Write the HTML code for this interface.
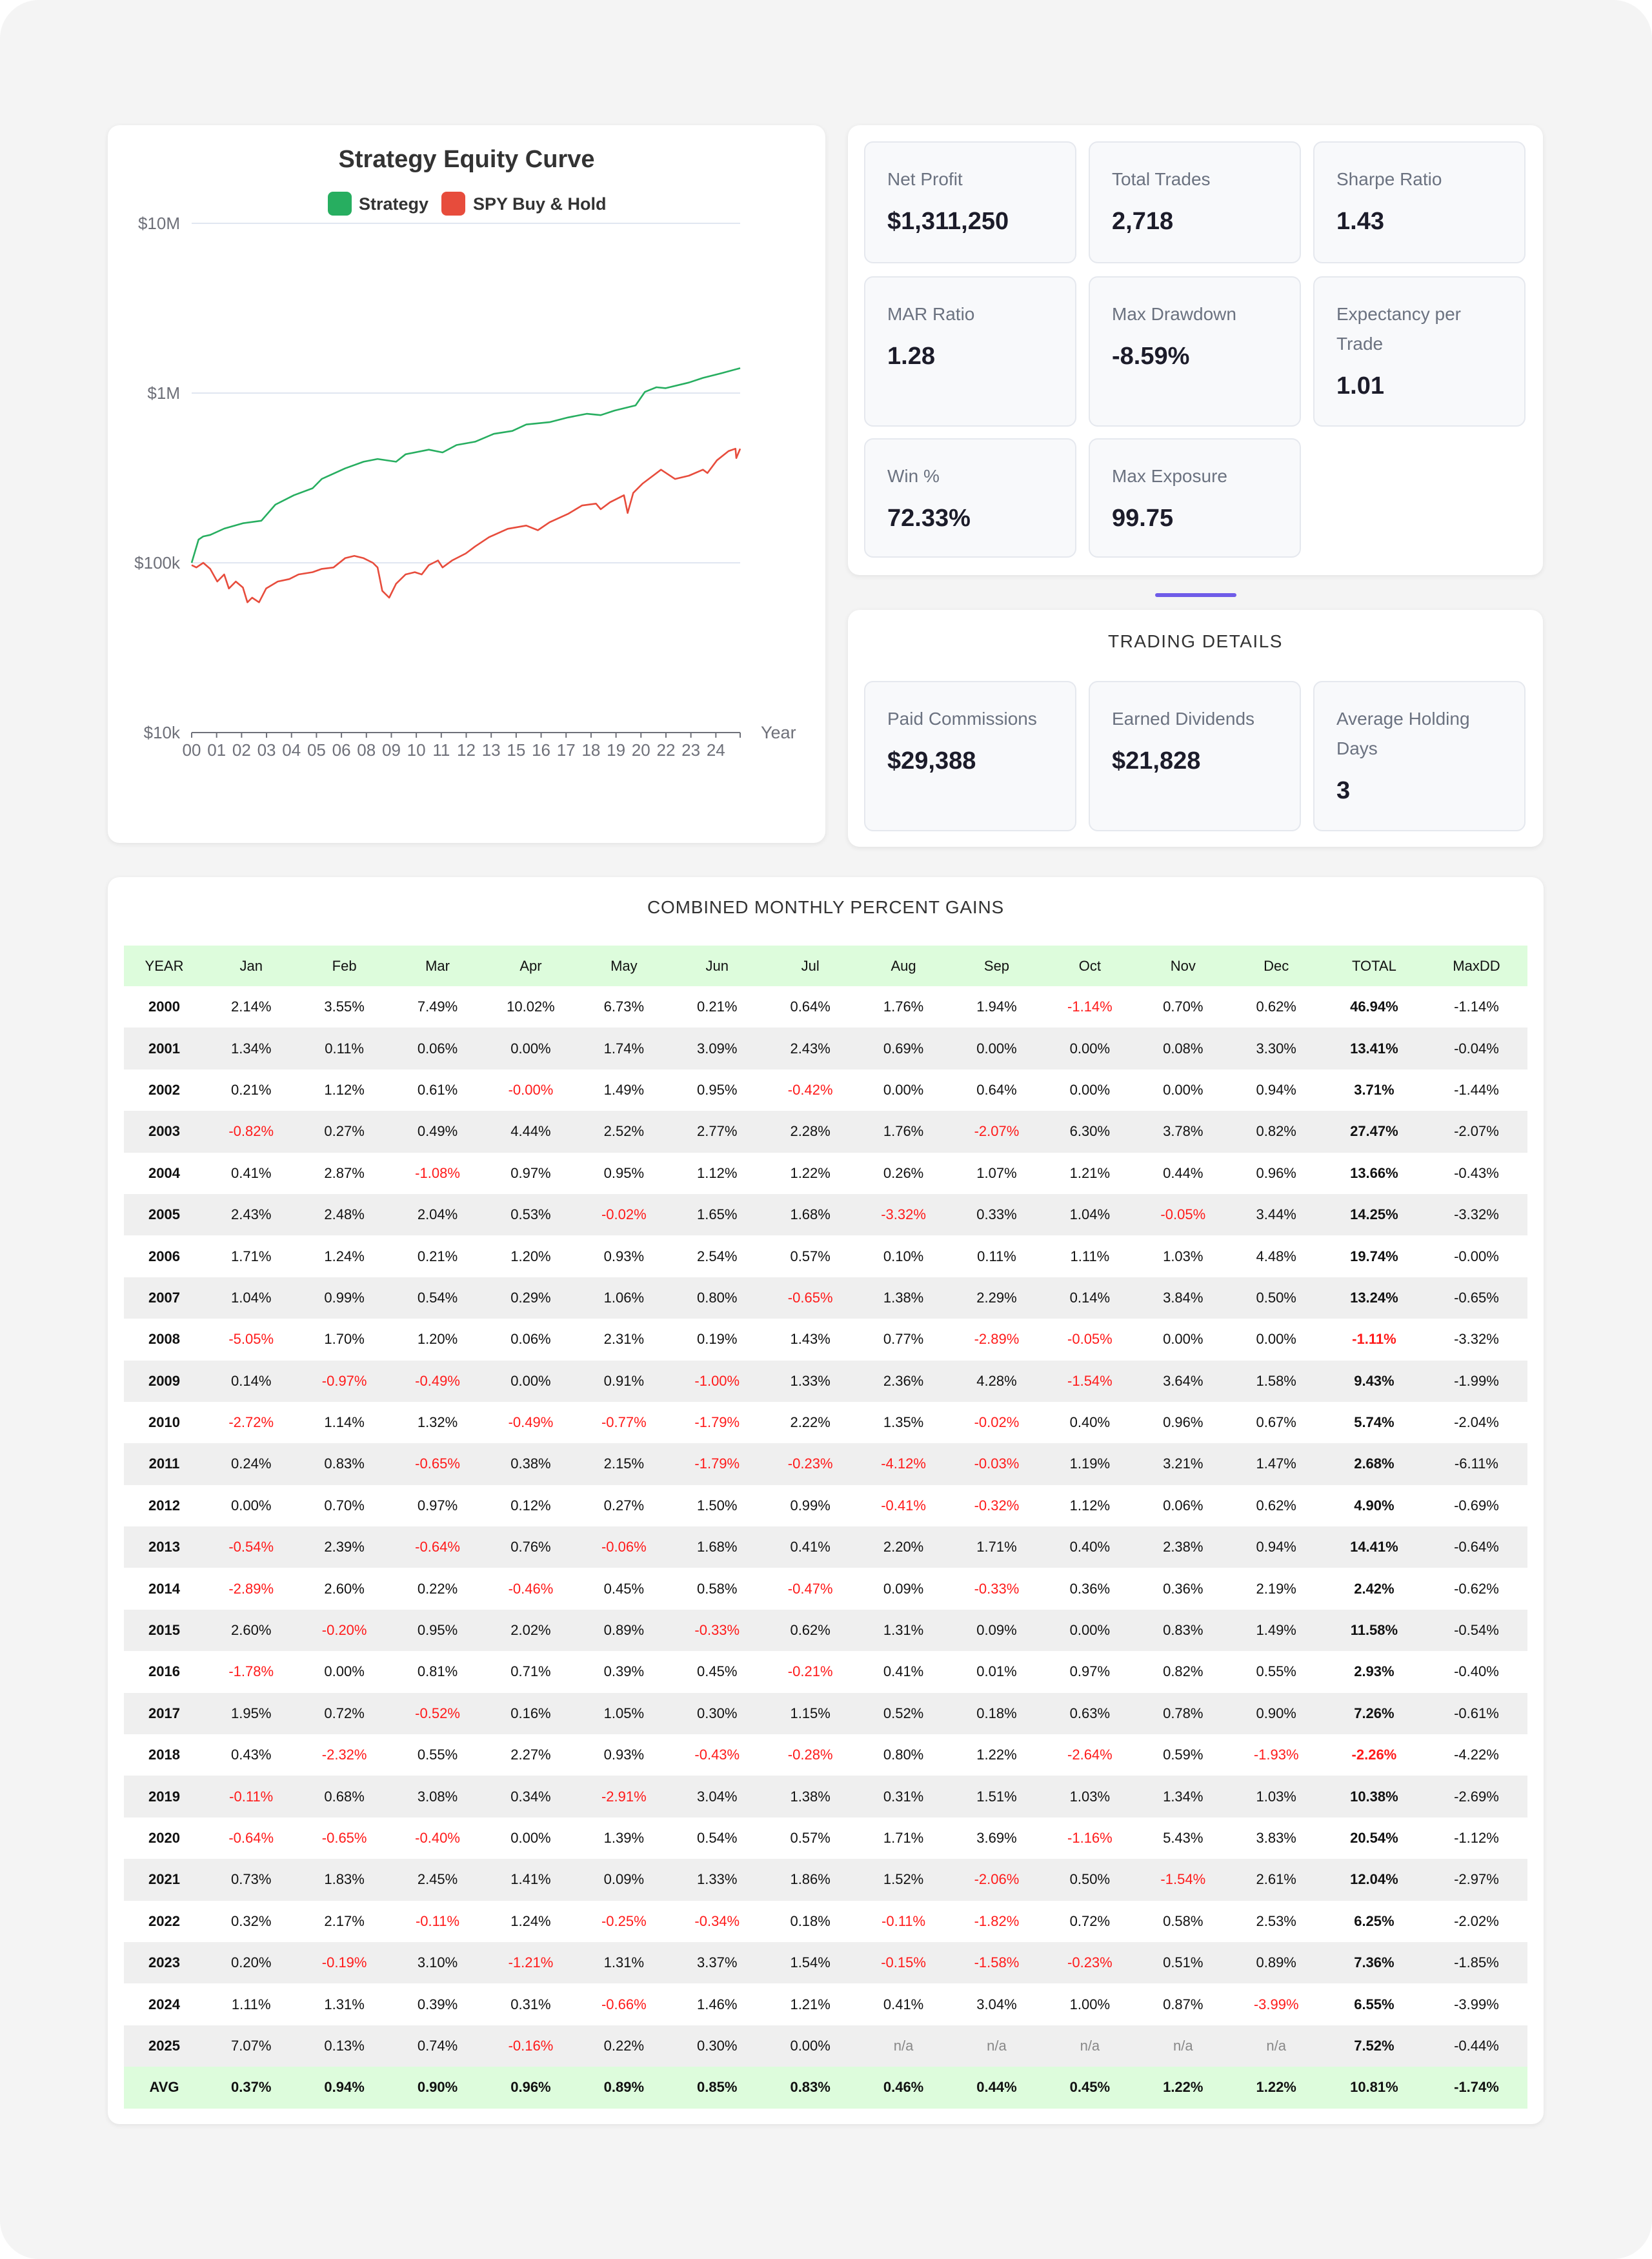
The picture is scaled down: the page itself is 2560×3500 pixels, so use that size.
<!DOCTYPE html>
<html><head><meta charset="utf-8">
<style>
*{box-sizing:border-box;margin:0;padding:0}
body{width:2560px;height:3500px;background:#fff;font-family:"Liberation Sans",Arial,sans-serif;position:relative;overflow:hidden}
#frame{position:absolute;left:0;top:0;width:2560px;height:3500px;background:#f4f4f4;border-radius:60px}
.card{position:absolute;background:#fff;border-radius:18px;box-shadow:0 2px 8px rgba(0,0,0,0.08)}
.tile{position:absolute;background:#f8f9fb;border:2px solid #e5e8ee;border-radius:14px;width:329px}
.tile .lbl{position:absolute;left:34px;top:34px;right:20px;font-size:28px;line-height:46px;color:#6b7280}
.tile .val{position:absolute;left:34px;font-size:38px;font-weight:bold;color:#1c1c2a}
.sect{position:absolute;left:0;right:0;text-align:center;font-size:28px;letter-spacing:1.5px;color:#333}
table{position:absolute;left:25px;top:106px;width:2175px;border-collapse:collapse;table-layout:fixed;font-family:"Liberation Sans",Arial,sans-serif;font-size:22px;color:#111}
td,th{text-align:center;height:64.4px;padding:0}
th{font-weight:normal;background:#ddfcdc;height:63px}
tr.s td{background:#efefef}
td.y,td.t{font-weight:bold}
td.n{color:#ff1a1a}
td.na{color:#888}
tr.avg td{background:#ddfcdc;font-weight:bold}
</style></head><body>
<div id="frame"></div>

<div class="card" style="left:167px;top:194px;width:1112px;height:1112px">
<svg id="chart" width="1112" height="1112" style="position:absolute;left:0;top:0"></svg>
</div>

<div class="card" style="left:1314px;top:194px;width:1077px;height:697px">
 <div class="tile" style="left:25px;top:25px;height:189px"><div class="lbl">Net Profit</div><div class="val" style="top:102px;line-height:40px">$1,311,250</div></div>
 <div class="tile" style="left:373px;top:25px;height:189px"><div class="lbl">Total Trades</div><div class="val" style="top:102px;line-height:40px">2,718</div></div>
 <div class="tile" style="left:721px;top:25px;height:189px"><div class="lbl">Sharpe Ratio</div><div class="val" style="top:102px;line-height:40px">1.43</div></div>
 <div class="tile" style="left:25px;top:234px;height:233px"><div class="lbl">MAR Ratio</div><div class="val" style="top:102px;line-height:40px">1.28</div></div>
 <div class="tile" style="left:373px;top:234px;height:233px"><div class="lbl">Max Drawdown</div><div class="val" style="top:102px;line-height:40px">-8.59%</div></div>
 <div class="tile" style="left:721px;top:234px;height:233px"><div class="lbl">Expectancy per Trade</div><div class="val" style="top:148px;line-height:40px">1.01</div></div>
 <div class="tile" style="left:25px;top:485px;height:185px"><div class="lbl">Win %</div><div class="val" style="top:102px;line-height:40px">72.33%</div></div>
 <div class="tile" style="left:373px;top:485px;height:185px"><div class="lbl">Max Exposure</div><div class="val" style="top:102px;line-height:40px">99.75</div></div>
</div>

<div style="position:absolute;left:1790px;top:919px;width:126px;height:6px;border-radius:3px;background:#6f5ce8"></div>

<div class="card" style="left:1314px;top:945px;width:1077px;height:367px">
 <div class="sect" style="top:29px;line-height:40px">TRADING DETAILS</div>
 <div class="tile" style="left:25px;top:110px;height:233px"><div class="lbl">Paid Commissions</div><div class="val" style="top:102px;line-height:40px">$29,388</div></div>
 <div class="tile" style="left:373px;top:110px;height:233px"><div class="lbl">Earned Dividends</div><div class="val" style="top:102px;line-height:40px">$21,828</div></div>
 <div class="tile" style="left:721px;top:110px;height:233px"><div class="lbl">Average Holding Days</div><div class="val" style="top:148px;line-height:40px">3</div></div>
</div>

<div class="card" style="left:167px;top:1359px;width:2225px;height:1932px">
 <div class="sect" style="top:27px;line-height:40px;letter-spacing:0.8px">COMBINED MONTHLY PERCENT GAINS</div>
 <table id="tbl">
  <colgroup><col style="width:125px"><col span="12" style="width:144.4px"><col style="width:159px"><col style="width:158px"></colgroup>
  <thead><tr id="hdr"></tr></thead>
  <tbody id="tb"></tbody>
 </table>
</div>

<script>
// ---- chart data ----
const strategyYears=[0,0.32,0.54,0.86,1.51,2.38,3.24,3.89,4.75,5.62,6.05,7.13,7.99,8.64,9.50,9.94,11.02,11.66,12.31,13.17,14.04,14.90,15.55,16.63,17.49,18.36,19.01,19.65,20.63,21.06,21.60,22.03,23.11,23.76,24.62,25.49];
const strategyValues=[100000,137000,143000,146000,159000,171000,177000,220000,250000,275000,312000,360000,394000,409000,394000,436000,464000,447000,494000,517000,575000,598000,653000,674000,718000,755000,741000,789000,846000,1016000,1082000,1069000,1153000,1228000,1309000,1402000];
const spyYears=[0,0.22,0.54,0.86,1.19,1.51,1.73,2.05,2.38,2.59,2.81,3.13,3.46,4.00,4.54,4.97,5.62,6.05,6.59,7.13,7.56,7.99,8.42,8.64,8.86,9.18,9.50,9.94,10.37,10.69,11.02,11.45,11.66,12.10,12.74,13.17,13.82,14.69,15.55,16.09,16.63,17.49,18.14,18.79,19.01,19.44,20.09,20.26,20.52,20.95,21.81,22.46,23.11,23.76,23.97,24.41,24.95,25.27,25.31,25.49];
const spyValues=[96900,93900,100000,92100,77600,85400,70600,77600,71600,58500,62300,58500,70600,77600,80200,85400,88100,92100,93900,106500,109900,106500,100000,93900,68400,62300,75300,85400,88100,85400,96900,103200,93900,103200,113500,124800,141600,158600,165700,155600,173300,194100,217500,223100,206900,227400,250000,196600,258000,292600,353700,311800,326000,353700,338000,401500,455000,470000,414000,470000];
const yTickValues=[10000,100000,1000000,10000000];
const yTickLabels=["$10k","$100k","$1M","$10M"];
const xTickLabels=["00","01","02","03","04","05","06","08","09","10","11","12","13","15","16","17","18","19","20","22","23","24"];
const xTickYears=[0,1.16,2.32,3.48,4.64,5.8,6.96,8.12,9.28,10.44,11.6,12.76,13.92,15.08,16.24,17.4,18.56,19.72,20.88,22.04,23.2,24.36];

const NS="http://www.w3.org/2000/svg";
const svg=document.getElementById('chart');
const X0=130,X1=980,YB=941,YT=152,XMAX=25.49;
function sx(t){return X0+(X1-X0)*t/XMAX;}
function sy(v){return YB-(YB-YT)*(Math.log10(v)-4)/3;}
function mk(tag,attrs,txt){const e=document.createElementNS(NS,tag);for(const k in attrs)e.setAttribute(k,attrs[k]);if(txt!==undefined)e.textContent=txt;svg.appendChild(e);return e;}

let e=mk('text',{x:556,y:65,'text-anchor':'middle','font-size':38,'font-weight':'bold',fill:'#333','font-family':'Liberation Sans, sans-serif'},'Strategy Equity Curve');


e=mk('rect',{x:341,y:103,width:37,height:37,rx:8,fill:'#27ae60'});


e=mk('text',{x:389,y:131,'font-size':27,'font-weight':'bold',fill:'#333','font-family':'Liberation Sans, sans-serif'},'Strategy');


e=mk('rect',{x:517,y:103,width:37,height:37,rx:8,fill:'#e74c3c'});


e=mk('text',{x:566,y:131,'font-size':27,'font-weight':'bold',fill:'#333','font-family':'Liberation Sans, sans-serif'},'SPY Buy & Hold');



yTickValues.forEach((v,i)=>{
  if(i>0){const g=mk('line',{x1:X0,x2:X1,y1:sy(v),y2:sy(v),stroke:'#e0e6f1','stroke-width':2});
  
  }
  const t=mk('text',{x:112,y:sy(v)+9,'text-anchor':'end','font-size':26,fill:'#6e7079','font-family':'Liberation Sans, sans-serif'},yTickLabels[i]);
  
  
});
e=mk('line',{x1:X0,x2:X1,y1:YB,y2:YB,stroke:'#6e7079','stroke-width':2});


xTickYears.forEach((t,i)=>{
  const l=mk('line',{x1:sx(t),x2:sx(t),y1:YB,y2:YB+8,stroke:'#6e7079','stroke-width':2});
  
  
  const tx=mk('text',{x:sx(t),y:YB+36,'text-anchor':'middle','font-size':26,fill:'#6e7079','font-family':'Liberation Sans, sans-serif'},xTickLabels[i]);
  
  
});
e=mk('line',{x1:X1,x2:X1,y1:YB,y2:YB+8,stroke:'#6e7079','stroke-width':2});


e=mk('text',{x:1012,y:YB+9,'font-size':27,fill:'#6e7079','font-family':'Liberation Sans, sans-serif'},'Year');



function path(xs,vs){return xs.map((t,i)=>(i?'L':'M')+sx(t).toFixed(1)+' '+sy(vs[i]).toFixed(1)).join(' ');}
e=mk('path',{d:path(spyYears,spyValues),fill:'none',stroke:'#e74c3c','stroke-width':2.6,'stroke-linejoin':'round'});


e=mk('path',{d:path(strategyYears,strategyValues),fill:'none',stroke:'#27ae60','stroke-width':2.6,'stroke-linejoin':'round'});



// ---- table data ----
const headers=["YEAR","Jan","Feb","Mar","Apr","May","Jun","Jul","Aug","Sep","Oct","Nov","Dec","TOTAL","MaxDD"];
const rows=[
["2000","2.14%","3.55%","7.49%","10.02%","6.73%","0.21%","0.64%","1.76%","1.94%","-1.14%","0.70%","0.62%","46.94%","-1.14%"],
["2001","1.34%","0.11%","0.06%","0.00%","1.74%","3.09%","2.43%","0.69%","0.00%","0.00%","0.08%","3.30%","13.41%","-0.04%"],
["2002","0.21%","1.12%","0.61%","-0.00%","1.49%","0.95%","-0.42%","0.00%","0.64%","0.00%","0.00%","0.94%","3.71%","-1.44%"],
["2003","-0.82%","0.27%","0.49%","4.44%","2.52%","2.77%","2.28%","1.76%","-2.07%","6.30%","3.78%","0.82%","27.47%","-2.07%"],
["2004","0.41%","2.87%","-1.08%","0.97%","0.95%","1.12%","1.22%","0.26%","1.07%","1.21%","0.44%","0.96%","13.66%","-0.43%"],
["2005","2.43%","2.48%","2.04%","0.53%","-0.02%","1.65%","1.68%","-3.32%","0.33%","1.04%","-0.05%","3.44%","14.25%","-3.32%"],
["2006","1.71%","1.24%","0.21%","1.20%","0.93%","2.54%","0.57%","0.10%","0.11%","1.11%","1.03%","4.48%","19.74%","-0.00%"],
["2007","1.04%","0.99%","0.54%","0.29%","1.06%","0.80%","-0.65%","1.38%","2.29%","0.14%","3.84%","0.50%","13.24%","-0.65%"],
["2008","-5.05%","1.70%","1.20%","0.06%","2.31%","0.19%","1.43%","0.77%","-2.89%","-0.05%","0.00%","0.00%","-1.11%","-3.32%"],
["2009","0.14%","-0.97%","-0.49%","0.00%","0.91%","-1.00%","1.33%","2.36%","4.28%","-1.54%","3.64%","1.58%","9.43%","-1.99%"],
["2010","-2.72%","1.14%","1.32%","-0.49%","-0.77%","-1.79%","2.22%","1.35%","-0.02%","0.40%","0.96%","0.67%","5.74%","-2.04%"],
["2011","0.24%","0.83%","-0.65%","0.38%","2.15%","-1.79%","-0.23%","-4.12%","-0.03%","1.19%","3.21%","1.47%","2.68%","-6.11%"],
["2012","0.00%","0.70%","0.97%","0.12%","0.27%","1.50%","0.99%","-0.41%","-0.32%","1.12%","0.06%","0.62%","4.90%","-0.69%"],
["2013","-0.54%","2.39%","-0.64%","0.76%","-0.06%","1.68%","0.41%","2.20%","1.71%","0.40%","2.38%","0.94%","14.41%","-0.64%"],
["2014","-2.89%","2.60%","0.22%","-0.46%","0.45%","0.58%","-0.47%","0.09%","-0.33%","0.36%","0.36%","2.19%","2.42%","-0.62%"],
["2015","2.60%","-0.20%","0.95%","2.02%","0.89%","-0.33%","0.62%","1.31%","0.09%","0.00%","0.83%","1.49%","11.58%","-0.54%"],
["2016","-1.78%","0.00%","0.81%","0.71%","0.39%","0.45%","-0.21%","0.41%","0.01%","0.97%","0.82%","0.55%","2.93%","-0.40%"],
["2017","1.95%","0.72%","-0.52%","0.16%","1.05%","0.30%","1.15%","0.52%","0.18%","0.63%","0.78%","0.90%","7.26%","-0.61%"],
["2018","0.43%","-2.32%","0.55%","2.27%","0.93%","-0.43%","-0.28%","0.80%","1.22%","-2.64%","0.59%","-1.93%","-2.26%","-4.22%"],
["2019","-0.11%","0.68%","3.08%","0.34%","-2.91%","3.04%","1.38%","0.31%","1.51%","1.03%","1.34%","1.03%","10.38%","-2.69%"],
["2020","-0.64%","-0.65%","-0.40%","0.00%","1.39%","0.54%","0.57%","1.71%","3.69%","-1.16%","5.43%","3.83%","20.54%","-1.12%"],
["2021","0.73%","1.83%","2.45%","1.41%","0.09%","1.33%","1.86%","1.52%","-2.06%","0.50%","-1.54%","2.61%","12.04%","-2.97%"],
["2022","0.32%","2.17%","-0.11%","1.24%","-0.25%","-0.34%","0.18%","-0.11%","-1.82%","0.72%","0.58%","2.53%","6.25%","-2.02%"],
["2023","0.20%","-0.19%","3.10%","-1.21%","1.31%","3.37%","1.54%","-0.15%","-1.58%","-0.23%","0.51%","0.89%","7.36%","-1.85%"],
["2024","1.11%","1.31%","0.39%","0.31%","-0.66%","1.46%","1.21%","0.41%","3.04%","1.00%","0.87%","-3.99%","6.55%","-3.99%"],
["2025","7.07%","0.13%","0.74%","-0.16%","0.22%","0.30%","0.00%","n/a","n/a","n/a","n/a","n/a","7.52%","-0.44%"]
];
const avgRow=["AVG","0.37%","0.94%","0.90%","0.96%","0.89%","0.85%","0.83%","0.46%","0.44%","0.45%","1.22%","1.22%","10.81%","-1.74%"];

const hdr=document.getElementById('hdr');
headers.forEach(h=>{const th=document.createElement('th');th.textContent=h;


hdr.appendChild(th);});
const tb=document.getElementById('tb');
rows.forEach((r,ri)=>{
  const tr=document.createElement('tr');
  if(ri%2===1)tr.className='s';
  
  
  r.forEach((c,ci)=>{
    const td=document.createElement('td');td.textContent=c;
    let cls=[];
    if(ci===0)cls.push('y');
    if(ci===13)cls.push('t');
    if(ci>0&&ci<14&&c.startsWith('-'))cls.push('n');
    if(c==='n/a')cls.push('na');
    td.className=cls.join(' ');
    
    
    tr.appendChild(td);
  });
  tb.appendChild(tr);
});
const atr=document.createElement('tr');atr.className='avg';


avgRow.forEach(c=>{const td=document.createElement('td');td.textContent=c;


atr.appendChild(td);});
tb.appendChild(atr);
</script>
</body></html>
